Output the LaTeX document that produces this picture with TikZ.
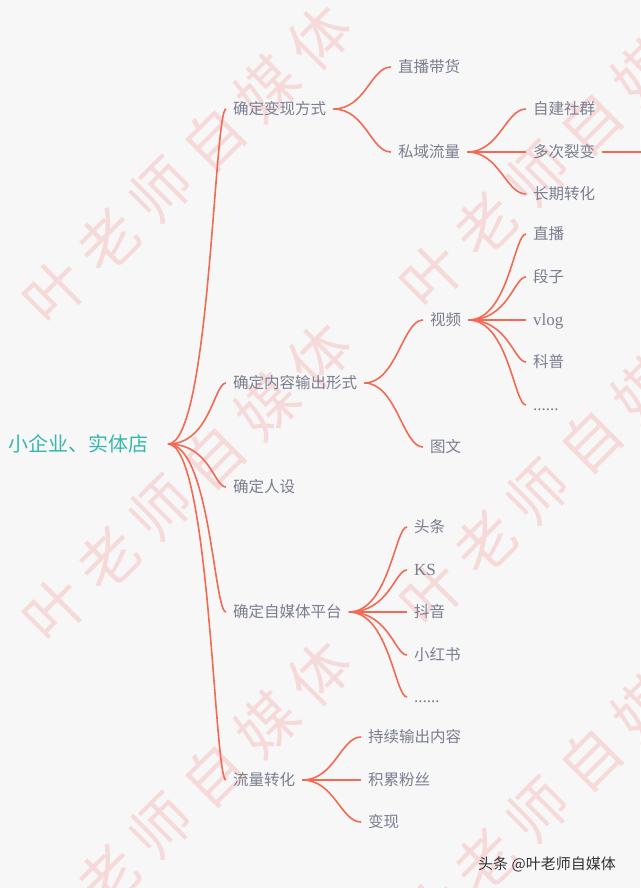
\documentclass[tikz,border=0pt]{standalone}
\usepackage{fontspec}
\newfontfamily\cjk{Noto Sans CJK SC}
\newfontfamily\lat{Liberation Serif}
\definecolor{bggray}{HTML}{F7F7F7}
\definecolor{txtgray}{HTML}{7A7E8E}
\definecolor{rootteal}{HTML}{36B7AC}
\definecolor{linered}{HTML}{F26A53}
\definecolor{wmpink}{HTML}{F6DADA}

\begin{document}
\begin{tikzpicture}[x=1pt,y=-1pt,
	lvl/.style={anchor=west,inner xsep=7pt,inner ysep=0pt,text height=13pt,text depth=1.2pt,
		text=txtgray,font=\cjk\fontsize{15.5}{18}\selectfont},
	latin/.style={lvl,font=\lat\fontsize{17}{20}\selectfont},
	rootnode/.style={anchor=west,inner sep=0pt,text height=17pt,text depth=1.5pt,
		text=rootteal,font=\cjk\fontsize{20}{24}\selectfont},
	branch/.style={draw=linered,line width=1.6pt},
	wm/.style={text=wmpink,rotate=45,inner sep=0pt,font=\cjk\fontsize{60}{62}\selectfont}]
	\useasboundingbox(0,0)rectangle(640,888);
	\fill[bggray](0,0)rectangle(640,888);
	% watermark
	\foreach \cx/\cy [count=\j] in{55/292,432/276,55/610,432/594,55/928,432/912}
	\foreach \c [count=\i from 0] in{叶,老,师,自,媒,体}
	\node[wm](w\j\i)at(\cx+\i*53,\cy-\i*51){\c};
	% root
	\node[rootnode](root)at(8,444){小企业、实体店};
	\coordinate(r0)at(168,444);
	% first level
	\node[lvl](bx)at(226,109){确定变现方式};
	\node[lvl](nr)at(226,383){确定内容输出形式};
	\node[lvl](rs)at(226,487){确定人设};
	\node[lvl](pt)at(226,612){确定自媒体平台};
	\node[lvl](lz)at(226,780){流量转化};
	\foreach \n in{bx,nr,rs,pt,lz}
	\draw[branch](r0) .. controls +(42,0) and +(-12,0) .. (\n.west);
	% monetisation
	\node[lvl](zb)at(391,67){直播带货};
	\node[lvl](sy)at(391,152){私域流量};
	\foreach \n in{zb,sy}
	\draw[branch](bx.east) .. controls +(32,0) and +(-20,0) .. (\n.west);
	\node[lvl](zj)at(526,109){自建社群};
	\node[lvl](dc)at(526,152){多次裂变};
	\node[lvl](cq)at(526,194){长期转化};
	\foreach \n in{zj,dc,cq}
	\draw[branch](sy.east) .. controls +(32,0) and +(-20,0) .. (\n.west);
	\coordinate(dcr)at(641,152);
	\draw[branch](dc.east)--(dcr);
	% content
	\node[lvl](sp)at(423,320){视频};
	\node[lvl](tw)at(423,447){图文};
	\foreach \n in{sp,tw}
	\draw[branch](nr.east) .. controls +(32,0) and +(-20,0) .. (\n.west);
	\node[lvl](zbo)at(526,234){直播};
	\node[lvl](dz)at(526,277){段子};
	\node[latin](vl)at(526,320){vlog};
	\node[lvl](kp)at(526,362){科普};
	\node[latin](ddv)at(526,405){......};
	\foreach \n in{zbo,dz,vl,kp,ddv}
	\draw[branch](sp.east) .. controls +(40,0) and +(-12,0) .. (\n.west);
	% platforms
	\node[lvl](tt)at(407,527){头条};
	\node[latin](ks)at(407,570){KS};
	\node[lvl](dy)at(407,612){抖音};
	\node[lvl](xh)at(407,655){小红书};
	\node[latin](ddp)at(407,697){......};
	\foreach \n in{tt,ks,dy,xh,ddp}
	\draw[branch](pt.east) .. controls +(40,0) and +(-12,0) .. (\n.west);
	% traffic
	\node[lvl](cx)at(361,737){持续输出内容};
	\node[lvl](lj)at(361,780){积累粉丝};
	\node[lvl](bxn)at(361,822){变现};
	\foreach \n in{cx,lj,bxn}
	\draw[branch](lz.east) .. controls +(32,0) and +(-20,0) .. (\n.west);
	% credit
	\node[anchor=west,inner sep=0pt,text=black!80,font=\cjk\fontsize{15}{18}\selectfont](cr)at(478,864){头条 @叶老师自媒体};
\end{tikzpicture}
\end{document}
